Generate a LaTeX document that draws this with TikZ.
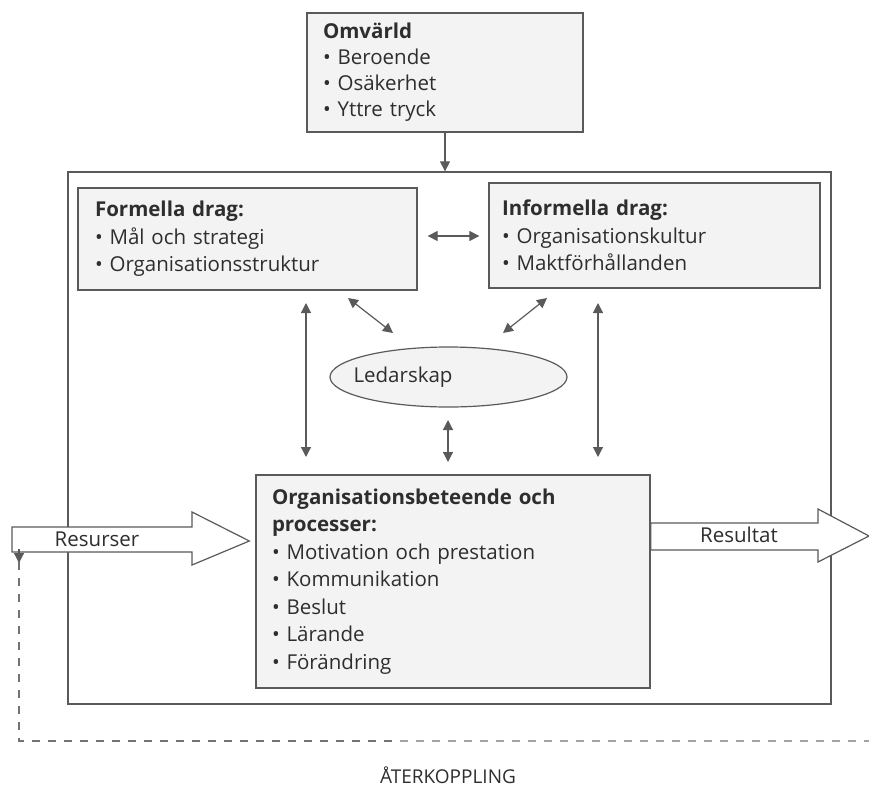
\documentclass[tikz,border=0pt]{standalone}
\usepackage{fontspec}
\setmainfont{Open Sans}
\usetikzlibrary{arrows.meta,shapes.geometric}
\definecolor{ink}{HTML}{2E2E2E}
\definecolor{linec}{HTML}{5A5A5A}
\definecolor{boxfill}{HTML}{F3F3F3}
\tikzset{
  box/.style={draw=linec, line width=1.3pt, fill=boxfill, text=ink, align=left,
    font=\fontsize{20.5}{27.5}\selectfont, inner ysep=4pt, anchor=center},
  conn/.style={draw=linec, line width=1.2pt, {Triangle[length=10pt,width=10pt]}-{Triangle[length=10pt,width=10pt]}},
  oneway/.style={draw=linec, line width=1.2pt, -{Triangle[length=10pt,width=10pt]}},
  blockarrow/.style={draw=linec, line width=1.2pt, fill=white},
  lbl/.style={text=ink, font=\fontsize{20.5}{24}\selectfont},
  fbline/.style={line width=1.2pt, dash pattern=on 8pt off 8pt},
}
\begin{document}
\begin{tikzpicture}[x=1pt,y=-1pt]
\useasboundingbox (0,0) rectangle (869,792);
% outer organisation frame
\node[draw=linec, line width=1.3pt, minimum width=763pt, minimum height=532pt, inner sep=0pt] (org) at (449.5,438) {};
% Omvärld
\node[box, minimum width=276pt, minimum height=119pt, text width=244pt, inner xsep=16pt, font=\fontsize{20.5}{26}\selectfont] (omv) at (445,72.5)
  {\textbf{Omvärld}\\• Beroende\\• Osäkerhet\\• Yttre tryck};
% Formella drag
\node[box, minimum width=339pt, minimum height=102pt, text width=305pt, inner xsep=17pt] (form) at (247.5,239)
  {\textbf{Formella drag:}\\• Mål och strategi\\• Organisationsstruktur};
% Informella drag
\node[box, minimum width=331pt, minimum height=105pt, text width=305pt, inner xsep=12pt] (inf) at (654.5,235.5)
  {\textbf{Informella drag:}\\• Organisationskultur\\• Maktförhållanden};
% Ledarskap
\node[draw=linec, line width=1.2pt, fill=boxfill, ellipse, minimum width=237pt, minimum height=60pt, inner sep=0pt] (led) at (448.5,377) {};
\node[lbl, anchor=west] (ledt) at (350,377) {Ledarskap};
% Organisationsbeteende
\node[box, minimum width=394pt, minimum height=213pt, text width=362pt, inner xsep=16pt] (proc) at (453,581.5)
  {\textbf{Organisationsbeteende och}\\\textbf{processer:}\\• Motivation och prestation\\• Kommunikation\\• Beslut\\• Lärande\\• Förändring};

% connectors
\draw[oneway] (omv.south) -- (omv.south |- org.north);
\draw[conn] ([xshift=10pt]form.east |- 0,236) -- ([xshift=-9pt]inf.west |- 0,236);
\coordinate (fl) at (306,303);
\coordinate (fr) at (598,303);
\draw[conn] (fl) -- (fl |- 0,457);
\draw[conn] (fr) -- (fr |- 0,457);
\draw[conn] (348,298) -- (393,333);
\draw[conn] (547,298) -- (503,333);
\draw[conn] (448,420) -- (448,462);

% Resurser block arrow
\draw[blockarrow] (12,527) -- (192,527) -- (192,512) -- ([xshift=-6pt]proc.west |- 0,541) -- (192,565) -- (192,552) -- (12,552) -- cycle;
\node[lbl] (res) at (97,539) {Resurser};
% Resultat block arrow
\draw[blockarrow] (proc.east |- 0,523) -- (818,523) -- (818,509) -- (869,536) -- (818,562) -- (818,550) -- (proc.east |- 0,550) -- cycle;
\node[lbl] (resu) at (739,535) {Resultat};

% feedback
\coordinate (fb0) at (869,741);
\coordinate (fbm) at (400,741);
\coordinate (fb1) at (19,741);
\coordinate (fb2) at (19,563);
\draw[fbline, draw=linec!55] (fbm) -- (fb0);
\draw[fbline, dash phase=8pt, draw=linec!85] (fbm) -- (fb1) -- ([yshift=14pt]fb2);
\draw[oneway] ([yshift=14pt]fb2) -- (fb2);
\node[text=ink, font=\fontsize{19}{22}\selectfont] (ater) at (448,775) {ÅTERKOPPLING};
\end{tikzpicture}
\end{document}
